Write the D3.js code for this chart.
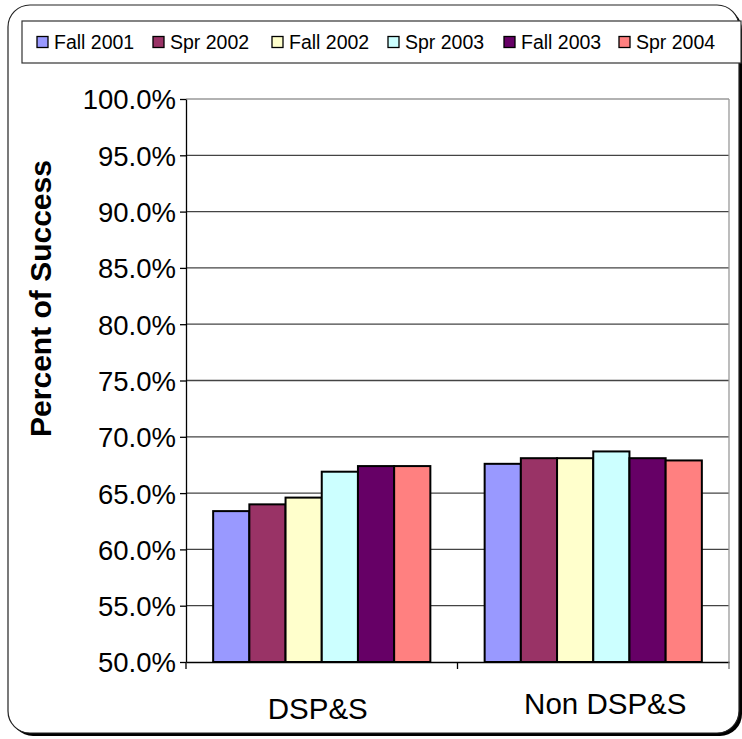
<!DOCTYPE html>
<html>
<head>
<meta charset="utf-8">
<script src="https://cdn.jsdelivr.net/npm/d3@7"></script>
<style>
  html, body { margin: 0; padding: 0; background: #fff; }
  svg { display: block; }
  text { font-family: "Liberation Sans", Arial, sans-serif; fill: #000; }
</style>
</head>
<body>
<svg id="chart" width="742" height="739"></svg>
<script>
// Success rates by student group and term
const categories = ["DSP&S", "Non DSP&S"];
const terms = ["Fall 2001", "Spr 2002", "Fall 2002", "Spr 2003", "Fall 2003", "Spr 2004"];
const dspsValues = [63.4, 64.0, 64.6, 66.9, 67.4, 67.4];
const nonDspsValues = [67.6, 68.1, 68.1, 68.7, 68.1, 67.9];
const termColors = ["#9999FF", "#993366", "#FFFFCC", "#CCFFFF", "#660066", "#FF8080"];
const yTicks = [50, 55, 60, 65, 70, 75, 80, 85, 90, 95, 100];
const yTitle = "Percent of Success";

const seriesByCategory = [dspsValues, nonDspsValues];
const rows = [];
categories.forEach((c, ci) => {
  terms.forEach((t, ti) => rows.push({ category: c, term: t, value: seriesByCategory[ci][ti] }));
});

const FONT = "'Liberation Sans', Arial, sans-serif";
const svg = d3.select("#chart");

// Outer chart frame with a drop shadow on the bottom/right
const frame = { x: 8, y: 5, w: 731, h: 728, r: 22 };
svg.append("rect")
  .attr("x", frame.x + 3).attr("y", frame.y + 3)
  .attr("width", frame.w).attr("height", frame.h)
  .attr("rx", frame.r).attr("fill", "#000");
svg.append("rect")
  .attr("x", frame.x).attr("y", frame.y)
  .attr("width", frame.w).attr("height", frame.h)
  .attr("rx", frame.r).attr("fill", "#fff")
  .attr("stroke", "#222").attr("stroke-width", 1.2);

// Plot area
const plot = { left: 186, top: 99, right: 729, bottom: 662 };

const x0 = d3.scaleBand().domain(categories).range([plot.left, plot.right]).paddingInner(0).paddingOuter(0);
// bars fill 6 of 7.5 bar-widths in each category (gap width 150%)
const x1 = d3.scaleBand().domain(terms)
  .range([0, x0.bandwidth()])
  .paddingInner(0)
  .paddingOuter(0.75);
const y = d3.scaleLinear().domain([50, 100]).range([plot.bottom, plot.top]);
const color = d3.scaleOrdinal().domain(terms).range(termColors);

// Gridlines
svg.append("g")
  .selectAll("line")
  .data(yTicks.filter(v => v > 50))
  .join("line")
  .attr("x1", plot.left).attr("x2", plot.right)
  .attr("y1", d => y(d)).attr("y2", d => y(d))
  .attr("stroke", d => d === 100 ? "#999" : "#444")
  .attr("stroke-width", 1.3);

// Right border of the plot area
svg.append("line")
  .attr("x1", plot.right).attr("x2", plot.right)
  .attr("y1", plot.top).attr("y2", plot.bottom)
  .attr("stroke", "#999").attr("stroke-width", 1.3);

// Bars
svg.append("g")
  .selectAll("rect")
  .data(rows)
  .join("rect")
  .attr("x", d => x0(d.category) + x1(d.term))
  .attr("y", d => y(d.value))
  .attr("width", x1.bandwidth())
  .attr("height", d => y(50) - y(d.value))
  .attr("fill", d => color(d.term))
  .attr("stroke", "#000")
  .attr("stroke-width", 2);

// Y axis
const yAxis = d3.axisLeft(y)
  .tickValues(yTicks)
  .tickFormat(d => d3.format(".1f")(d) + "%")
  .tickSizeInner(6).tickSizeOuter(0).tickPadding(4);
const gy = svg.append("g").attr("transform", `translate(${plot.left},0)`).call(yAxis);
gy.attr("font-family", FONT);
gy.select(".domain").attr("stroke", "#000").attr("stroke-width", 1.3);
gy.selectAll(".tick line").attr("stroke", "#000").attr("stroke-width", 1.3);
gy.selectAll(".tick text")
  .attr("font-size", 27.5)
  .attr("font-family", FONT)
  .attr("fill", "#000")
  .attr("dy", "0.36em");

// X axis
const xAxis = d3.axisBottom(x0).tickSize(0).tickPadding(30);
const gx = svg.append("g").attr("transform", `translate(0,${plot.bottom})`).call(xAxis);
gx.attr("font-family", FONT);
gx.select(".domain").attr("stroke", "#000").attr("stroke-width", 1.3);
// label nudges, as laid out on the page
const labelShift = { "DSP&S": [-4, 6], "Non DSP&S": [12, 1] };
gx.selectAll(".tick text")
  .attr("font-size", 29.5)
  .attr("font-family", FONT)
  .attr("fill", "#000")
  .attr("dx", d => labelShift[d][0])
  .attr("y", d => 30 + labelShift[d][1]);
// category boundary ticks
svg.append("g")
  .selectAll("line")
  .data([plot.left, x0(categories[1]), plot.right])
  .join("line")
  .attr("x1", d => d).attr("x2", d => d)
  .attr("y1", plot.bottom).attr("y2", plot.bottom + 7)
  .attr("stroke", d => d === plot.right ? "#777" : "#000")
  .attr("stroke-width", 1.3);

// Y axis title
svg.append("text")
  .attr("transform", `translate(51,${(plot.top + plot.bottom) / 2 - 82}) rotate(-90)`)
  .attr("text-anchor", "middle")
  .attr("font-family", FONT)
  .attr("font-size", 30)
  .attr("font-weight", "bold")
  .text(yTitle);

// Legend
const legend = { x: 22, y: 21, w: 719, h: 42 };
svg.append("rect")
  .attr("x", legend.x).attr("y", legend.y)
  .attr("width", legend.w).attr("height", legend.h)
  .attr("fill", "#fff").attr("stroke", "#333").attr("stroke-width", 1.2);

const legendX = [37, 153, 272, 388, 504, 619];
const items = svg.append("g")
  .selectAll("g")
  .data(terms)
  .join("g")
  .attr("transform", (d, i) => `translate(${legendX[i]},${legend.y + legend.h / 2})`);
items.append("rect")
  .attr("x", 0).attr("y", -5.5)
  .attr("width", 11).attr("height", 11)
  .attr("fill", d => color(d))
  .attr("stroke", "#000").attr("stroke-width", 1.3);
items.append("text")
  .attr("x", 17).attr("y", 0).attr("dy", "0.36em")
  .attr("font-family", FONT)
  .attr("font-size", 19.5)
  .text(d => d);
</script>
</body>
</html>
